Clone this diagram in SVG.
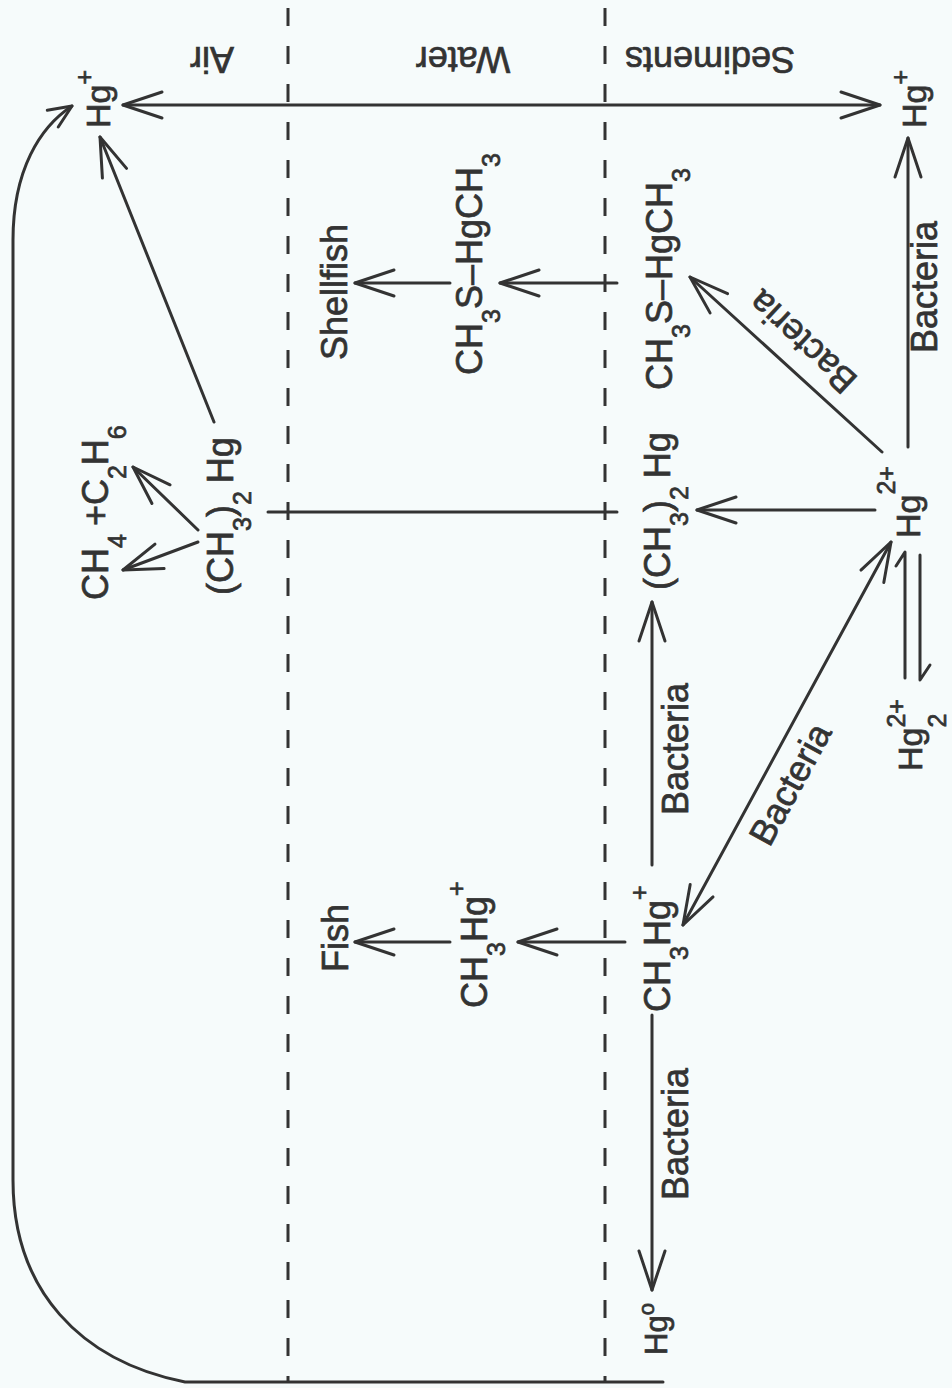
<svg xmlns="http://www.w3.org/2000/svg" width="952" height="1388" viewBox="0 0 952 1388">
<style>
.t{font-family:"Liberation Sans",Arial,Helvetica,sans-serif;font-size:36px;fill:#333;stroke:#333;stroke-width:0.7}
.hg{font-size:34px}
.s{font-size:25px}
.ln{stroke:#333;stroke-width:3;fill:none;stroke-linecap:round;stroke-linejoin:round}
.dash{stroke:#333;stroke-width:3;fill:none;stroke-dasharray:18 20}
</style>
<defs>
<marker id="ah" markerUnits="userSpaceOnUse" viewBox="-46 -20 50 40" markerWidth="50" markerHeight="40" refX="0" refY="0" orient="auto-start-reverse">
<path d="M-39,-13 L0,0 L-39,13" fill="none" stroke="#333" stroke-width="3" stroke-linecap="round" stroke-linejoin="round"/>
</marker>
<marker id="ahs" markerUnits="userSpaceOnUse" viewBox="-30 -14 34 28" markerWidth="34" markerHeight="28" refX="0" refY="0" orient="auto">
<path d="M-23,-10 L0,0 L-23,10" fill="none" stroke="#333" stroke-width="3" stroke-linecap="round" stroke-linejoin="round"/>
</marker>
</defs>
<rect width="952" height="1388" fill="#f6fbfb"/>

<g id="zones">
<path class="dash" d="M288,8 L288,1382"/>
<path class="dash" d="M605,8 L605,1382"/>
<text class="t" text-anchor="middle" transform="translate(212,47) rotate(180)">Air</text>
<text class="t" text-anchor="middle" transform="translate(463,47) rotate(180)">Water</text>
<text class="t" text-anchor="middle" transform="translate(710,47) rotate(180)">Sediments</text>
</g>

<g id="connectors">
<path class="ln" d="M663,1382 L185,1382 C80,1361 13,1290 13,1180 L13,240 C13,170 40,127 72,106" marker-end="url(#ahs)"/>
<path class="ln" d="M123,105 L880,105" marker-start="url(#ah)" marker-end="url(#ah)"/>
<path class="ln" d="M214,422 L100,137" marker-end="url(#ah)"/>
<path class="ln" d="M198,542 L123,570" marker-end="url(#ah)"/>
<path class="ln" d="M198,530 L133,467" marker-end="url(#ah)"/>
<path class="ln" d="M268,512 L617,512"/>
<path class="ln" d="M875,510 L697,510" marker-end="url(#ah)"/>
<path class="ln" d="M617,283 L500,283" marker-end="url(#ah)"/>
<path class="ln" d="M450,283 L355,283" marker-end="url(#ah)"/>
<path class="ln" d="M882,452 L690,277" marker-end="url(#ah)"/>
<path class="ln" d="M908,447 L908,138" marker-end="url(#ah)"/>
<path class="ln" d="M683,925 L891,542" marker-start="url(#ah)" marker-end="url(#ah)"/>
<path class="ln" d="M652,865 L652,602" marker-end="url(#ah)"/>
<path class="ln" d="M625,942 L518,942" marker-end="url(#ah)"/>
<path class="ln" d="M450,942 L355,942" marker-end="url(#ah)"/>
<path class="ln" d="M652,1015 L652,1290" marker-end="url(#ah)"/>
<path class="ln" d="M905,678 L905,552 L896,566"/>
<path class="ln" d="M920,555 L920,680 L930,665"/>
<text class="t" transform="translate(937,353) rotate(-90)">Bacteria</text>
<text class="t" text-anchor="middle" transform="translate(811,333) rotate(-137)">Bacteria</text>
<text class="t" text-anchor="middle" transform="translate(801,790) rotate(-61.5)">Bacteria</text>
<text class="t" transform="translate(688,815) rotate(-90)">Bacteria</text>
<text class="t" transform="translate(688,1200) rotate(-90)">Bacteria</text>
</g>

<g id="hg-plus-air">
<text class="t hg" transform="translate(110,128) rotate(-90)">Hg<tspan class="s" dy="-17">+</tspan></text>
</g>
<g id="hg-plus-sed">
<text class="t hg" transform="translate(926,128) rotate(-90)">Hg<tspan class="s" dy="-17">+</tspan></text>
</g>
<g id="dimethylhg-air">
<text class="t" transform="translate(233,595) rotate(-90)">(CH<tspan class="s" dy="18">3</tspan><tspan dy="-18">)</tspan><tspan class="s" dy="18">2</tspan><tspan dy="-18" dx="8">Hg</tspan></text>
</g>
<g id="ch4-c2h6">
<text class="t" transform="translate(108,600) rotate(-90)">CH<tspan class="s" dy="18">4</tspan><tspan dy="-18" dx="8">+C</tspan><tspan class="s" dy="18">2</tspan><tspan dy="-18">H</tspan><tspan class="s" dy="18">6</tspan></text>
</g>
<g id="ch3s-hgch3-water">
<text class="t" transform="translate(482,375) rotate(-90)">CH<tspan class="s" dy="18">3</tspan><tspan dy="-18">S–HgCH</tspan><tspan class="s" dy="18">3</tspan></text>
</g>
<g id="ch3s-hgch3-sed">
<text class="t" transform="translate(672,390) rotate(-90)">CH<tspan class="s" dy="18">3</tspan><tspan dy="-18">S–HgCH</tspan><tspan class="s" dy="18">3</tspan></text>
</g>
<g id="shellfish">
<text class="t" transform="translate(347,360) rotate(-90)">Shellfish</text>
</g>
<g id="dimethylhg-sed">
<text class="t" transform="translate(670,590) rotate(-90)">(CH<tspan class="s" dy="18">3</tspan><tspan dy="-18">)</tspan><tspan class="s" dy="18">2</tspan><tspan dy="-18" dx="8">Hg</tspan></text>
</g>
<g id="hg2plus">
<text class="t hg" transform="translate(920,538) rotate(-90)">Hg<tspan class="s" dy="-25">2+</tspan></text>
</g>
<g id="hg2-2plus">
<text class="t hg" transform="translate(922,771) rotate(-90)">Hg<tspan class="s" dy="24">2</tspan><tspan class="s" dx="-13.9" dy="-41">2+</tspan></text>
</g>
<g id="ch3hg-sed">
<text class="t" transform="translate(670,1012) rotate(-90)">CH<tspan class="s" dy="18">3</tspan><tspan dy="-18">Hg</tspan><tspan class="s" dy="-22">+</tspan></text>
</g>
<g id="ch3hg-water">
<text class="t" transform="translate(487,1008) rotate(-90)">CH<tspan class="s" dy="18">3</tspan><tspan dy="-18">Hg</tspan><tspan class="s" dy="-22">+</tspan></text>
</g>
<g id="fish">
<text class="t" transform="translate(348,972) rotate(-90)">Fish</text>
</g>
<g id="hg0">
<text class="t" style="font-size:31px" transform="translate(667,1355) rotate(-90)">Hg<tspan class="s" style="font-size:22px" dy="-13">o</tspan></text>
</g>
</svg>
